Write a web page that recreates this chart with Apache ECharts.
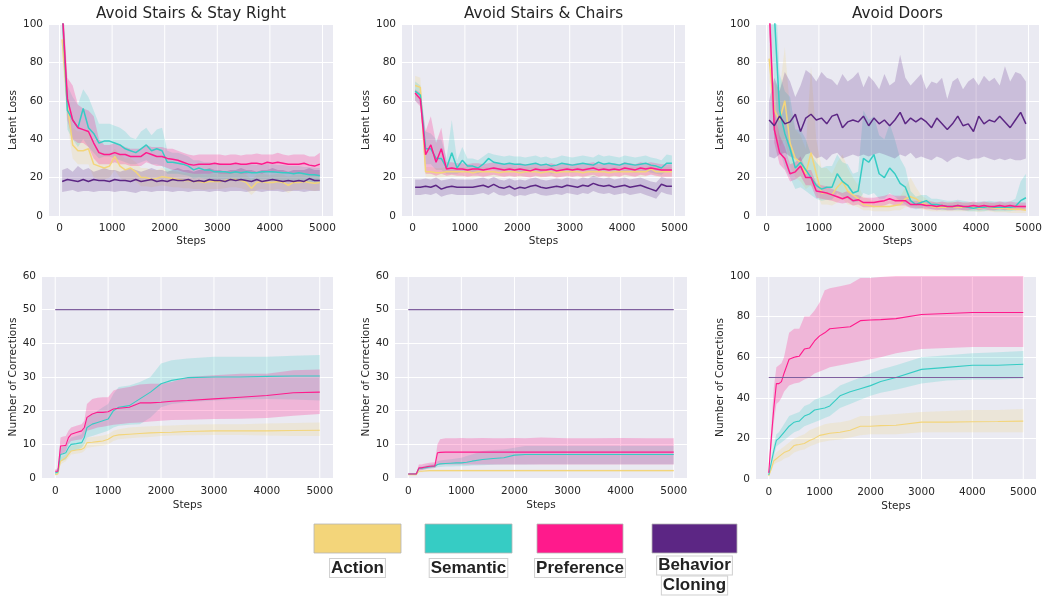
<!DOCTYPE html>
<html><head><meta charset="utf-8">
<script src="https://cdn.jsdelivr.net/npm/echarts@6/dist/echarts.min.js"></script>
<style>html,body{margin:0;padding:0;background:#fff}#c{width:1043px;height:596px}</style>
</head><body><div id="c"></div>
<script>
// ---------- DATA ----------
const seriesNames = ['Action', 'Semantic', 'Preference', 'Behavior Cloning'];
const titles = ['Avoid Stairs & Stay Right', 'Avoid Stairs & Chairs', 'Avoid Doors'];
const xTickValues = [0, 1000, 2000, 3000, 4000, 5000];
const yTicksLoss = [0, 20, 40, 60, 80, 100];
const yTicksCorrA = [0, 10, 20, 30, 40, 50, 60];
const yTicksCorrB = [0, 20, 40, 60, 80, 100];

const xTop = [50,150,250,350,450,550,650,750,850,950,1050,1150,1250,1350,1450,1550,1650,1750,1850,1950,2050,2150,2250,2350,2450,2550,2650,2750,2850,2950,3050,3150,3250,3350,3450,3550,3650,3750,3850,3950,4050,4150,4250,4350,4450,4550,4650,4750,4850,4950];
const xBot = [0,50,100,150,200,250,300,400,500,550,600,700,800,900,1000,1100,1200,1400,1600,1800,2000,2200,2500,3000,3500,4000,4500,5000];
const xBC = [0, 5000];

// Plot 1: Avoid Stairs & Stay Right (latent loss)
const p1ActMean = [92,58,37,34,34,35,27,26,25,26,31,26,24,25,23,20,20,19,19.6,20.5,20,19.5,19,18.5,18.5,18,18,17.5,18,18,18,18.5,19,19,18.5,17.5,14.5,17.5,18,17.5,17.5,18,17.5,16,17.5,17.5,18,17.5,17,17.5];
const p1ActHi = [100,66,46,44,44,45,36,34,32,32,35,32,30,30,28,25,25,24,24,25,24,23.5,23,22.5,22.5,22,22,21.5,22,22,22,22.5,23,23,22.5,21.5,19,21.5,22,21.5,21.5,22,21.5,20.5,21.5,21.5,22,21.5,21,21.5];
const p1ActLo = [84,48,30,27,27,27,20,19,19,20,24,20,18,19,18,15.5,15.5,15,15.5,16,15.5,15,15,14.5,14.5,14,14,13.5,14,14,14,14.5,15,15,14.5,13.5,11,13.5,14,13.5,13.5,14,13.5,12,13.5,13.5,14,13.5,13,13.5];
const p1SemMean = [108,55,50,46,56,46,43,38,39,39,38,37,35,34,33,35,37,34,35,34,28,28,27.5,27,26,24,25,24,24,23,23,23,22.5,23,22.5,23,22.5,22.5,23,23,23,22.8,22.5,22.5,22,22.5,22,21.5,21.5,21];
const p1SemHi = [118,68,62,58,66,62,55,48,48,48,47,46,44,41,40,44,46,42,45,46,34,33,33,32,31,29,29,28,28,27.5,27.5,27,27,27,27,27,27,26.5,27,27,27,26.5,26.5,26,26,26,25.5,25.5,25,25];
const p1SemLo = [98,45,40,36,40,36,33,30,31,31,30,29,28,27,27,28,29,27,27,26,22,22,22,21.5,21,19.5,20,19.5,19.5,19,19,19,18.5,19,18.5,19,18.5,18.5,19,19,19,18.8,18.5,18.5,18,18.5,18,17.5,17.5,17];
const p1PrefMean = [108,61,50,46,45,44,38,33,32,32,33,32,32,31,31,31,33,32,31,31,30,29.5,29,28,27,26.5,27,27,27,27.5,27,27,27,27.5,27,27,27.5,27.5,27,28,27.5,28,27.5,27,27,27,27.5,26.5,26,27];
const p1PrefHi = [118,72,68,58,56,55,52,40,37,37,38,37,36,35,35,35,37,36,36,36,35,35,34,33,32,31.5,32,32,32,32,32,31.5,32,32,31.5,32,32,32.5,32,32,32,33,32,31.5,32,32,32,31,31,33];
const p1PrefLo = [98,50,40,38,38,36,30,27,27,27,28,27,27,26,26,26,28,27,26,26,25,24,24,23,22.5,22,22,22,22,22.5,22,22,22,22.5,22,22,22.5,22.5,22,23,22.5,23,22.5,22,22,22,22.5,21.5,21,21];
const p1BcMean = [18,19,18.5,18,19,18,19,18.5,18.5,18,19,18.5,18.5,18,19,18,18.5,19,18,18.5,18,19,18.5,18.5,19,18,18.5,18,19,18.5,18.5,18,19,18.5,19,18.5,18,19,18,18.5,19,18.5,18,18.5,18,18.5,18,19.5,18.5,18.5];
const p1BcHi = [24,25,23,26,24,25,23,24,25,24,24,23,24,25,24,23,24,25,24,24,23,24,25,24,24,23,24,24,25,24,24,23,24,24,25,24,24,23,24,24,25,24,24,23,24,24,24,25,24,24];
const p1BcLo = [12.5,13,13.5,12.5,13,13,12.5,13,13,13,12.5,13,13,12.5,12,13,13,12.5,13,13,13,12.5,13,13,12.5,13,13,13,12.5,13,13,12.5,13,13,13,12.5,13,13,12.5,13,13,13,12.5,13,13,13,12.5,13,13,13];

// Plot 2: Avoid Stairs & Chairs (latent loss)
const p2ActMean = [68,67,23,23,22.5,22.5,23,23,23,23,23,22.5,23,23,23,23,22.5,23,23,23,22.5,23,23,23,22.5,23,23,22.5,23,23,23,23,22.5,23,23,23,23,22.5,23,23,23,23,23,23,23,24.5,23,23,23,23];
const p2ActHi = [73,72,25.5,25.5,25,25,25.5,25.5,25.5,25.5,25.5,25,25.5,25.5,25.5,25.5,25,25.5,25.5,25.5,25,25.5,25.5,25.5,25,25.5,25.5,25,25.5,25.5,25.5,25.5,25,25.5,25.5,25.5,25.5,25,25.5,25.5,25.5,25.5,25.5,25.5,25.5,27,25.5,25.5,25.5,25.5];
const p2ActLo = [62,61,20.5,20.5,20,20,20.5,20.5,20.5,20.5,20.5,20,20.5,20.5,20.5,20.5,20,20.5,20.5,20.5,20,20.5,20.5,20.5,20,20.5,20.5,20,20.5,20.5,20.5,20.5,20,20.5,20.5,20.5,20.5,20,20.5,20.5,20.5,20.5,20.5,20.5,20.5,22,20.5,20.5,20.5,20.5];
const p2SemMean = [65,63,35,35,30,30,25,33,25,29,26,26,25,27,30,28,27.5,27,27.5,27,27,26.5,27,27.5,26.5,27,26,26.5,27.5,27,26.5,27,27.5,27,26.5,28,27,27.5,27,26.5,27.5,27,26.5,27,27.5,26.5,26,25,27.5,27.5];
const p2SemHi = [70,68,44,43,40,40,30,50,29,36,30,30,29,31,33,32,31.5,31,31.5,31,31,30.5,31,31.5,30.5,31,30,30.5,31.5,31,30.5,31,31.5,31,30.5,32,31,31.5,31,30.5,31.5,31,30.5,31,31.5,30.5,30,29,32,31.5];
const p2SemLo = [60,58,27,27,24,24,22,22,22,23,22.5,22.5,22,23,25,24,23.5,23,23.5,23,23,22.5,23,23.5,22.5,23,22,22.5,23.5,23,22.5,23,23.5,23,22.5,24,23,23.5,23,22.5,23.5,23,22.5,23,23.5,22.5,22,21.5,23.5,23.5];
const p2PrefMean = [64,61,32,37,28,35,24.5,25,24.5,24.5,24,24.5,24.5,24,24.5,25,24.5,24,24.5,24,24.5,24,23.5,24.5,24,24,24.5,23.5,24,24.5,24,24.5,24,24.5,25,24,24.5,24,24.5,24,25,24.5,24,25,24.5,25,24.5,24,24,24];
const p2PrefHi = [66,64,44,52,38,46,28,28,27.5,27.5,27,27.5,27.5,27,27.5,28,27.5,27,27.5,27,27.5,27,26.5,27.5,27,27,27.5,26.5,27,27.5,27,27.5,27,27.5,28,27,27.5,27,27.5,27,28,27.5,27,28,27.5,28,27.5,27,27,27];
const p2PrefLo = [60,57,22,22,21,22,21,21.5,21,21,20.5,21,21,20.5,21,21.5,21,20.5,21,20.5,21,20.5,20,21,20.5,20.5,21,20,20.5,21,20.5,21,20.5,21,21.5,20.5,21,20.5,21,20.5,21.5,21,20.5,21.5,21,21.5,21,20.5,20.5,20.5];
const p2BcMean = [15,15,15.5,15,16,14,15,15.5,15,15,15,15,15.5,16,15,16.5,15,14.5,15.5,14,15,14.5,15.5,16,15,14.5,15,15.5,15,16,15.5,15,16,15.5,17,16,15.5,16,15,15.5,16,15,15.5,16,15,14,13,16.5,15.5,15.5];
const p2BcHi = [19,19,19.5,19,20,18.5,19,19.5,19,19,19,19,19.5,20,19,20.5,19,18.5,19.5,18.5,19,18.5,19.5,20,19,18.5,19,19.5,19,20,19.5,19,20,19.5,21,20,19.5,20,19,19.5,20,19,19.5,20,19,18,17.5,20.5,19.5,19.5];
const p2BcLo = [11,11,11.5,11,12,10,11,11.5,11,11,11,11,11.5,12,11,12.5,11,10.5,11.5,10,11,10.5,11.5,12,11,10.5,11,11.5,11,12,11.5,11,12,11.5,13,12,11.5,12,11,11.5,12,11,11.5,12,11,10,9,12.5,11.5,11];

// Plot 3: Avoid Doors (latent loss)
const p3ActMean = [82,55,50,60,38,30,28,22,33,22,12,12,11,15,18,13,11,9,6,5.5,5,5,5,5,5.5,6,9,10,9,7,6,5,4.5,4.5,4.5,5,4.5,4.5,4.5,4.5,4,4.5,4.5,4,4,4,3.5,3.5,3.5,3];
const p3ActHi = [90,70,65,88,55,45,42,35,78,40,25,25,22,28,32,25,20,16,10,9,8,8,8,8,9,10,15,20,15,11,9,7.5,7,7,7,7.5,7,7,7,7,6.5,7,7,6.5,6.5,6.5,6,6,6,5.5];
const p3ActLo = [72,42,36,40,26,20,18,14,16,12,6,6,5.5,7,9,6,5.5,4.5,3,3,2.5,2.5,2.5,2.5,3,3,4.5,5,4.5,3.5,3,2.5,2.5,2.5,2.5,2.5,2.5,2.5,2.5,2.5,2,2.5,2.5,2,2,2,1.5,1.5,1.5,1.5];
const p3SemMean = [130,105,55,43,35,25,28,24,20,16,14,15,15,22,18,16,12,13,30,28,32,22,20,25,22,17,15,8,6,7,8,6,6,5.5,5,5,5.5,5,4.5,4,4.5,4.5,5,4.5,4.5,4.5,4.5,5,8,9.5];
const p3SemHi = [140,130,74,65,62,45,45,40,32,28,25,26,26,32,28,27,22,23,55,50,52,42,40,48,40,30,25,13,10,11,11,9,9,8.5,8,8,8.5,8,7.5,7,7.5,7.5,8,7.5,7.5,7.5,7.5,9,18,22];
const p3SemLo = [110,70,35,25,20,14,15,13,11,9,8,8.5,8.5,12,10,9,7,7.5,12,11,12,9,9,12,10,8,6,4.5,3.5,4,4.5,3.5,3.5,3,3,3,3,3,2.5,2.5,2.5,2.5,3,2.5,2.5,2.5,2.5,3,3.5,4];
const p3PrefMean = [110,45,33,30,22,23,26,20,20,13,12.5,12,11,10,9,10,8,8.5,7,7,7,7.5,8,9,8,8,8,6,6,6,5.5,5.5,5,5.5,5,5,5.5,5,5,5.5,5,5.5,5,5,5.5,5,5.5,5,5,5];
const p3PrefHi = [125,55,42,36,27,28,31,24,24,17,16,15.5,14,13,12,13,11,11,9.5,9.5,9.5,10,10.5,11.5,10.5,10.5,10.5,8,8,8,7.5,7.5,7,7.5,7,7,7.5,7,7,7.5,7,7.5,7,7,7.5,7,7.5,7,7,7];
const p3PrefLo = [95,38,27,24,18,19,21,16,16,9.5,9,8.5,8,7,6.5,7,5.5,6,4.5,4.5,4.5,5,5.5,6.5,5.5,5.5,5.5,4,4,4,3.5,3.5,3,3.5,3,3,3.5,3,3,3.5,3,3.5,3,3,3.5,3,3.5,3,3,3];
const p3BcMean = [50,47,52,48,49,53,44,51,53,50,51,48,52,53,46,49,50,49,52,47,51,48,50,47,50,54,48,51,49,51,49,46,51,48,45,48,52,47,48,44,52,48,50,49,52,49,46,50,54,48];
const p3BcHi = [60,72,65,75,70,62,68,76,74,70,75,72,71,68,74,70,72,75,67,73,70,66,74,68,70,84,72,68,71,74,66,70,69,72,61,70,72,66,70,72,68,73,70,72,68,78,70,75,74,70];
const p3BcLo = [31,30,32,33,31,30,28,32,33,30,31,29,32,33,30,31,32,31,32,31,32,33,32,31,30,32,31,33,30,31,30,29,31,30,28,30,31,30,29,30,30,31,30,29,30,29,30,29,29,30];

// Plot 4: Avoid Stairs & Stay Right (corrections)
const p4ActMean = [1,1.2,5,5.5,6,7,8,8.3,8.5,9,10.5,10.6,10.8,11,11.5,12.5,12.8,13,13.2,13.4,13.5,13.6,13.8,14,14,14,14.1,14.2];
const p4ActHi = [1.5,1.8,6,6.5,7,8.5,9.5,9.8,10,10.5,12,12.2,12.4,12.6,13,14,14.5,15,15.2,15.4,15.5,15.6,15.8,16,16,16.2,16.3,16.5];
const p4ActLo = [0.8,0.9,4,4.5,5,6,7,7.2,7.5,8,9,9.2,9.4,9.6,10,11,11.5,11.8,12,12.2,12.5,12.6,12.7,12.8,12.8,12.6,12.5,12.5];
const p4SemMean = [1.5,1.8,7,7.2,7.5,9,10,10.2,10.5,12,15,16,16.5,17,17.5,20,21,21.5,23.5,25.5,28,29,29.8,30,30,30.2,30.3,30.3];
const p4SemHi = [2,2.3,9,9.2,9.5,11,12,12.5,13,15,18,19,20,21,22,25,27,27.5,28.5,30,34,35,35.5,36,36,36,36.3,36.5];
const p4SemLo = [1,1.2,5,5.2,5.5,7,8,8.3,9,10,12,12.5,13,13.5,14,15,15.5,15.8,16,18,21,22,22.5,23,23.3,23.5,23.3,23];
const p4PrefMean = [2,2,9.5,9.6,9.7,12,13,13.5,14,15,18,19,19.5,19.5,19.7,20.5,20.7,21,22.3,22.3,22.5,22.8,23,23.5,24,24.5,25.3,25.5];
const p4PrefHi = [2.5,2.8,12,12.3,12.5,14,15,15.5,16,17,22,23.5,23.8,24,24,26,26.5,27,27.8,28,28,28.5,30,30.5,31,31,32,32.2];
const p4PrefLo = [1.5,1.6,7,7.2,8,10,11,11.3,11.5,12.5,14,14.5,15,15.2,15.5,15.8,16,16.3,16.5,16.8,17,17.2,17.3,17.5,17.6,17.8,18.5,19];

// Plot 5: Avoid Stairs & Chairs (corrections)
const p5ActMean = [1,1,1,1,2,2,2.1,2.2,2.2,2.2,2.2,2.2,2.2,2.2,2.2,2.2,2.2,2.2,2.2,2.2,2.2,2.2,2.2,2.2,2.2,2.2,2.2,2.2];
const p5ActHi = [1.2,1.2,1.2,1.2,2.3,2.3,2.4,2.5,2.5,2.5,2.5,2.5,2.5,2.5,2.5,2.5,2.5,2.5,2.5,2.5,2.5,2.5,2.5,2.5,2.5,2.5,2.5,2.5];
const p5ActLo = [0.8,0.8,0.8,0.8,1.7,1.7,1.8,1.9,1.9,1.9,1.9,1.9,1.9,1.9,1.9,1.9,1.9,1.9,1.9,1.9,1.9,1.9,1.9,1.9,1.9,1.9,1.9,1.9];
const p5SemMean = [1.2,1.2,1.2,1.2,2.8,2.9,3,3.3,3.5,4,4.2,4.3,4.4,4.5,4.5,4.7,5,5.5,5.8,6,6.8,7,7,7,7,7,7,7];
const p5SemHi = [1.5,1.5,1.5,1.5,3.3,3.4,3.6,4,4.2,5,5.2,5.4,5.6,5.8,6,6.5,7,8,8.3,8.5,9,9.5,9.5,9.5,9.5,9.5,9.5,9.5];
const p5SemLo = [1,1,1,1,2.3,2.4,2.5,2.8,3,3.2,3.3,3.4,3.4,3.5,3.5,3.6,3.7,3.8,3.9,4,4,4,4.1,4.1,4.1,4.1,4.1,4.1];
const p5PrefMean = [1.2,1.2,1.2,1.2,3,3,3.2,3.5,3.6,7.5,7.6,7.7,7.7,7.7,7.7,7.7,7.7,7.7,7.7,7.7,7.7,7.7,7.7,7.7,7.7,7.7,7.7,7.7];
const p5PrefHi = [1.5,1.5,1.5,1.5,4,4,4.2,4.5,4.7,10,11.5,11.8,11.8,11.8,11.9,11.8,11.8,11.9,11.8,11.8,11.9,11.8,12,11.8,11.8,11.9,11.8,11.8];
const p5PrefLo = [1,1,1,1,2.3,2.3,2.5,2.8,3,3.8,4,4,4,4,4,4,4,4,4,4,4,4,4,4,4,4,4,4];

// Plot 6: Avoid Doors (corrections)
const p6ActMean = [1.5,5,9,10,11,12,13,14,16.5,16.8,17,17.5,19,20,21.5,22,22.5,23,24,26,26,26.3,26.5,28,28,28.2,28.3,28.5];
const p6ActHi = [2,6,11,13,14,15,16,18,20,20.5,21,22,24,25,26,27,27.5,28,29,31,31,31.5,32,33,33.5,34,34,34.5];
const p6ActLo = [1,4,7,8,8.5,9,10,11,13,13.5,14,14.5,16,17,18,18.5,19,19.5,20.5,21.5,22,22,22,23,23,23,23,23];
const p6SemMean = [2,8,14,19,20,21.5,23,26,28,28.3,28.5,31,32,34,34.5,35,36,41,43,44.5,46,48,50,54,55,56,56,56.5];
const p6SemHi = [2.5,10,17,22,23,25,27,31,32,32.5,33,36,37,39,40,41,42,46,48,50,52,54,56,60,61,62,62.5,63];
const p6SemLo = [1.5,6,11,16,17,18,19,21,23,23.5,24,26,27,28,29,30,31,35,37,39,41,42.5,44,47,48.5,49,49,49.5];
const p6PrefMean = [3,20,35,47,47,48,52,59,60,60.3,60.5,64,64.5,68,70.5,72,74,74.5,75,78,78.3,78.5,79,81,81.5,82,82,82];
const p6PrefHi = [3.5,25,45,55,56,57,60,72,74,74,74,80,80,83,87,93,94,95,96,99,99,99.5,100,101,101,101,101,101];
const p6PrefLo = [2.5,15,28,37,38,40,43,46,47,47.3,47.5,49,50,52,53,54,55,56,57,58,59,60,62,64,64.5,65,65,65];

// Behavior cloning always needs the full budget of corrections
const bcCorrections = [50, 50];

// ---------- STYLE / LAYOUT ----------
const COLORS = ['#F3D57A', '#36CCC4', '#FF1A8C', '#5C2684'];
const BG = '#EAEAF2';
const TXT = '#262626';
const FONT = '"DejaVu Sans", sans-serif';

const panels = [
  {grid:{left:49, top:24, width:284, height:192}, xmin:-200, xmax:5200, xint:200, ymax:100, yint:20, yname:'Latent Loss', ygap:29, top:true},
  {grid:{left:402, top:24, width:283, height:192}, xmin:-200, xmax:5200, xint:200, ymax:100, yint:20, yname:'Latent Loss', ygap:30, top:true},
  {grid:{left:756, top:24, width:283, height:192}, xmin:-200, xmax:5200, xint:200, ymax:100, yint:20, yname:'Latent Loss', ygap:29, top:true},
  {grid:{left:42, top:276, width:291, height:202}, xmin:-250, xmax:5250, xint:250, ymax:60, yint:10, yname:'Number of Corrections', ygap:23, top:false},
  {grid:{left:395, top:276, width:292, height:202}, xmin:-250, xmax:5250, xint:250, ymax:60, yint:10, yname:'Number of Corrections', ygap:23, top:false},
  {grid:{left:756, top:276, width:280, height:203}, xmin:-250, xmax:5250, xint:250, ymax:100, yint:20, yname:'Number of Corrections', ygap:29, top:false}
];

const panelData = [
  {x:xTop, s:[[p1ActMean,p1ActLo,p1ActHi],[p1SemMean,p1SemLo,p1SemHi],[p1PrefMean,p1PrefLo,p1PrefHi],[p1BcMean,p1BcLo,p1BcHi]]},
  {x:xTop, s:[[p2ActMean,p2ActLo,p2ActHi],[p2SemMean,p2SemLo,p2SemHi],[p2PrefMean,p2PrefLo,p2PrefHi],[p2BcMean,p2BcLo,p2BcHi]]},
  {x:xTop, s:[[p3ActMean,p3ActLo,p3ActHi],[p3SemMean,p3SemLo,p3SemHi],[p3PrefMean,p3PrefLo,p3PrefHi],[p3BcMean,p3BcLo,p3BcHi]]},
  {x:xBot, s:[[p4ActMean,p4ActLo,p4ActHi],[p4SemMean,p4SemLo,p4SemHi],[p4PrefMean,p4PrefLo,p4PrefHi]]},
  {x:xBot, s:[[p5ActMean,p5ActLo,p5ActHi],[p5SemMean,p5SemLo,p5SemHi],[p5PrefMean,p5PrefLo,p5PrefHi]]},
  {x:xBot, s:[[p6ActMean,p6ActLo,p6ActHi],[p6SemMean,p6SemLo,p6SemHi],[p6PrefMean,p6PrefLo,p6PrefHi]]}
];

function rgba(hex, a) {
  const n = parseInt(hex.slice(1), 16);
  return 'rgba(' + ((n >> 16) & 255) + ',' + ((n >> 8) & 255) + ',' + (n & 255) + ',' + a + ')';
}

const grids = [], xAxes = [], yAxes = [], series = [];

panels.forEach((p, gi) => {
  grids.push(Object.assign({show:true, backgroundColor:BG, borderWidth:0, containLabel:false, outerBoundsMode:'none'}, p.grid));
  xAxes.push({
    type:'value', gridIndex:gi, min:p.xmin, max:p.xmax, interval:p.xint,
    axisLine:{show:false}, axisTick:{show:false}, splitLine:{show:false},
    axisLabel:{color:TXT, fontSize:10.5, fontFamily:FONT, margin:p.top ? 7 : 8,
      formatter: v => (xTickValues.indexOf(Math.round(v)) >= 0 ? String(Math.round(v)) : '')},
    name:'Steps', nameLocation:'middle', nameGap:p.top ? 20 : 22,
    nameTextStyle:{color:TXT, fontSize:10.5, fontFamily:FONT}
  });
  yAxes.push({
    type:'value', gridIndex:gi, min:0, max:p.ymax, interval:p.yint,
    axisLine:{show:false}, axisTick:{show:false},
    splitLine:{show:true, lineStyle:{color:'#ffffff', width:1}},
    axisLabel:{color:TXT, fontSize:10.5, fontFamily:FONT, margin:6},
    name:p.yname, nameLocation:'middle', nameGap:p.ygap,
    nameTextStyle:{color:TXT, fontSize:10.5, fontFamily:FONT}
  });
  // vertical white grid lines at the labelled x ticks
  series.push({
    type:'custom', xAxisIndex:gi, yAxisIndex:gi, z:1, silent:true,
    data: xTickValues.map(v => [v, 0]), encode:{x:0, y:1},
    renderItem: (params, api) => {
      const xv = api.value(0);
      const a = api.coord([xv, 0]), b = api.coord([xv, p.ymax]);
      return {type:'line', shape:{x1:a[0], y1:a[1], x2:b[0], y2:b[1]}, style:{stroke:'#ffffff', lineWidth:1}};
    }
  });
  const d = panelData[gi];
  // bands
  d.s.forEach((trip, si) => {
    const lo = trip[1], hi = trip[2], xs = d.x;
    series.push({
      type:'custom', xAxisIndex:gi, yAxisIndex:gi, z:2, silent:true,
      data: xs.map((v, i) => [v, lo[i], hi[i]]), encode:{x:0, y:[1, 2]},
      renderItem: (params, api) => {
        if (params.dataIndex !== 0) return null;
        const topPts = [], botPts = [];
        for (let i = 0; i < xs.length; i++) {
          topPts.push(api.coord([xs[i], hi[i]]));
          botPts.push(api.coord([xs[i], lo[i]]));
        }
        const cs = params.coordSys;
        return {type:'polygon', shape:{points: topPts.concat(botPts.reverse())},
          style:{fill: rgba(COLORS[si], si === 2 ? 0.25 : 0.22), stroke:null},
          clipPath:{type:'rect', shape:{x:cs.x, y:cs.y, width:cs.width, height:cs.height}}};
      }
    });
  });
  // mean lines
  d.s.forEach((trip, si) => {
    series.push({
      type:'line', name:seriesNames[si], xAxisIndex:gi, yAxisIndex:gi, z:3, silent:true,
      showSymbol:false, symbol:'none', clip:true,
      data: d.x.map((v, i) => [v, trip[0][i]]),
      lineStyle:{color:COLORS[si], width:p.top ? 1.5 : 1.1}, itemStyle:{color:COLORS[si]}
    });
  });
  if (!p.top) {
    series.push({
      type:'line', name:seriesNames[3], xAxisIndex:gi, yAxisIndex:gi, z:3, silent:true,
      showSymbol:false, symbol:'none',
      data: xBC.map((v, i) => [v, bcCorrections[i]]),
      lineStyle:{color:'#80609F', width:1.1}, itemStyle:{color:'#80609F'}
    });
  }
});

// titles and legend as graphic
const graphic = [];
[0,1,2].forEach(i => {
  const g = panels[i].grid;
  graphic.push({type:'text', x:g.left + g.width/2, y:14,
    style:{text:titles[i], font:'15.2px ' + FONT, fill:TXT, align:'center', verticalAlign:'middle', textAlign:'center', textVerticalAlign:'middle'}});
});
const legendBoxes = [{x:314, w:87}, {x:425, w:87}, {x:537, w:86}, {x:652, w:85}];
const legendLabels = [[seriesNames[0]], [seriesNames[1]], [seriesNames[2]], ['Behavior', 'Cloning']];
legendBoxes.forEach((b, i) => {
  graphic.push({type:'rect', shape:{x:b.x, y:524, width:b.w, height:29},
    style:{fill:COLORS[i], stroke:'#b5b5b5', lineWidth:0.8}});
  const lines = legendLabels[i];
  lines.forEach((t, li) => {
    const cy = lines.length === 1 ? 568 : (li === 0 ? 565.5 : 585.5);
    graphic.push({type:'text', x:b.x + b.w/2, y:cy,
      style:{text:t, font:'bold 17px "Liberation Sans", Arial, sans-serif', fill:'#222222',
        align:'center', verticalAlign:'middle', textAlign:'center', textVerticalAlign:'middle',
        backgroundColor:'#ffffff', borderColor:'#cfcfcf', borderWidth:1, padding:[1, 1, 0, 1]}});
  });
});

const chart = echarts.init(document.getElementById('c'), null, {renderer:'canvas'});
chart.setOption({
  animation:false,
  backgroundColor:'#ffffff',
  grid:grids, xAxis:xAxes, yAxis:yAxes, series:series, graphic:graphic
});
</script></body></html>
